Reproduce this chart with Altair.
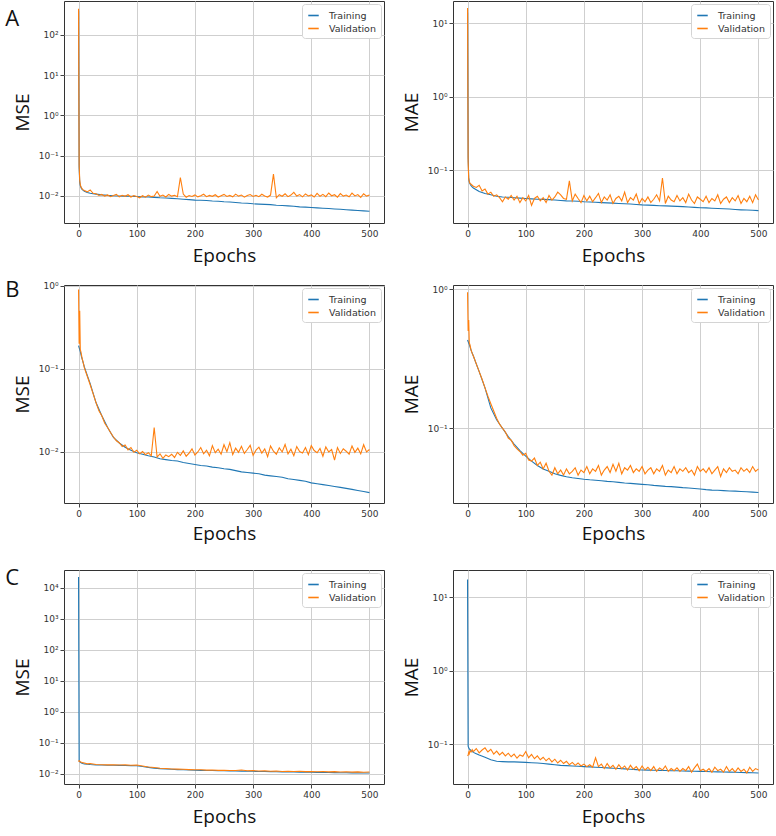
import altair as alt
import pandas as pd

# ---------------- epochs grids ----------------
EP_C = [0, 1, 2, 3, 5, 7, 10, 15, 20] + list(range(30, 501, 10))
EP_F = [0, 1, 2, 3, 4, 6, 8] + list(range(10, 501, 5))

SERIES = ["Training", "Validation"]
BLUE = "#1f77b4"
ORANGE = "#ff7f0e"

# ---------------- A : MSE ----------------
A_MSE_TRAIN = [400, 0.05, 0.022, 0.018, 0.015, 0.014, 0.013, 0.012, 0.0115,
               0.0110, 0.0105, 0.0102, 0.0100, 0.0099, 0.0098, 0.0097, 0.0096, 0.0094, 0.0093,
               0.0091, 0.0089, 0.0088, 0.0086, 0.0084, 0.0082, 0.0080, 0.0078, 0.0077, 0.0076,
               0.0074, 0.0073, 0.0071, 0.0070, 0.0068, 0.0066, 0.0065, 0.0063, 0.0062, 0.0061,
               0.0060, 0.0058, 0.0057, 0.0056, 0.0055, 0.0053, 0.0052, 0.0051, 0.0050, 0.0049,
               0.0048, 0.0047, 0.0046, 0.0045, 0.0044, 0.0043, 0.0042, 0.0041]
A_MSE_VAL = [450, 0.06, 0.025, 0.019, 0.017, 0.015, 0.014,
             0.0135, 0.0125, 0.0140, 0.0115, 0.0112, 0.0102, 0.0108, 0.0098, 0.0105, 0.0095,
             0.0101, 0.0108, 0.0094, 0.0103, 0.0097, 0.0106, 0.0093, 0.0101, 0.0096, 0.0089,
             0.0100, 0.0092, 0.0104, 0.0095, 0.0099, 0.0128, 0.0097, 0.0104, 0.0093, 0.0108,
             0.0098, 0.0103, 0.0095, 0.0285, 0.0110, 0.0092, 0.0101, 0.0096, 0.0105, 0.0094,
             0.0100, 0.0109, 0.0095, 0.0102, 0.0097, 0.0106, 0.0093, 0.0100, 0.0108, 0.0096,
             0.0102, 0.0094, 0.0110, 0.0098, 0.0104, 0.0092, 0.0101, 0.0107, 0.0096, 0.0103,
             0.0095, 0.0109, 0.0099, 0.0093, 0.0104, 0.0345, 0.0089, 0.0106, 0.0097, 0.0112,
             0.0095, 0.0104, 0.0121, 0.0098, 0.0107, 0.0094, 0.0111, 0.0099, 0.0105, 0.0093,
             0.0115, 0.0097, 0.0108, 0.0095, 0.0117, 0.0100, 0.0106, 0.0092, 0.0113, 0.0098,
             0.0104, 0.0094, 0.0116, 0.0099, 0.0107, 0.0091, 0.0112, 0.0098, 0.0105]

# ---------------- A : MAE ----------------
A_MAE_TRAIN = [14, 0.15, 0.08, 0.068, 0.063, 0.060, 0.057, 0.054, 0.051,
               0.048, 0.046, 0.044, 0.043, 0.0425, 0.042, 0.0415, 0.041, 0.0405, 0.040,
               0.0398, 0.0395, 0.039, 0.0385, 0.038, 0.0378, 0.0375, 0.037, 0.0367, 0.0364,
               0.036, 0.0357, 0.0354, 0.035, 0.0347, 0.0344, 0.034, 0.0335, 0.0333, 0.033,
               0.0327, 0.0325, 0.0322, 0.032, 0.0317, 0.0314, 0.031, 0.0307, 0.0305, 0.0302,
               0.030, 0.0297, 0.0294, 0.029, 0.0287, 0.0285, 0.0283, 0.028]
A_MAE_VAL = [16, 0.13, 0.075, 0.070, 0.066, 0.064, 0.062,
             0.060, 0.058, 0.062, 0.052, 0.055, 0.047, 0.050, 0.044, 0.046, 0.042,
             0.037, 0.043, 0.040, 0.045, 0.039, 0.044, 0.036, 0.042, 0.038, 0.045,
             0.033, 0.041, 0.044, 0.038, 0.042, 0.036, 0.045, 0.039, 0.043, 0.050,
             0.046, 0.041, 0.040, 0.071, 0.038, 0.047, 0.041, 0.036, 0.045, 0.038,
             0.044, 0.037, 0.042, 0.048, 0.036, 0.043, 0.039, 0.046, 0.035, 0.041,
             0.044, 0.038, 0.050, 0.036, 0.042, 0.039, 0.047, 0.035, 0.041, 0.037,
             0.043, 0.036, 0.040, 0.046, 0.038, 0.078, 0.035, 0.044, 0.039, 0.037,
             0.045, 0.038, 0.042, 0.036, 0.047, 0.039, 0.035, 0.043, 0.040, 0.037,
             0.044, 0.036, 0.041, 0.038, 0.046, 0.035, 0.040, 0.043, 0.036, 0.042,
             0.038, 0.045, 0.035, 0.041, 0.037, 0.044, 0.036, 0.046, 0.039]

# ---------------- B : MSE ----------------
B_MSE_TRAIN = [0.19, 0.18, 0.17, 0.16, 0.14, 0.125, 0.105, 0.083, 0.066,
               0.039, 0.027, 0.0195, 0.0148, 0.0127, 0.0113, 0.0104, 0.0097, 0.0093, 0.0089,
               0.0086, 0.0082, 0.0080, 0.0078, 0.0077, 0.0074, 0.0072, 0.0070, 0.0068, 0.0067,
               0.0065, 0.0064, 0.0062, 0.0061, 0.0059, 0.0057, 0.0056, 0.0055, 0.0054, 0.0052,
               0.0051, 0.0050, 0.0049, 0.0047, 0.0046, 0.0045, 0.0044, 0.0042, 0.0041, 0.0040,
               0.0039, 0.0038, 0.0037, 0.0036, 0.0035, 0.0034, 0.0033, 0.0032]
B_MSE_VAL = [0.90, 0.20, 0.50, 0.17, 0.16, 0.135, 0.118,
             0.102, 0.081, 0.064, 0.050, 0.039, 0.031, 0.027, 0.022, 0.0195, 0.017,
             0.0150, 0.0135, 0.0128, 0.0115, 0.0120, 0.0105, 0.0112, 0.0098, 0.0104, 0.0094,
             0.0100, 0.0092, 0.0097, 0.0089, 0.0195, 0.0086, 0.0094, 0.0083, 0.0091, 0.0087,
             0.0093, 0.0085, 0.0098, 0.0090, 0.0102, 0.0088, 0.0096, 0.0108, 0.0091, 0.0099,
             0.0112, 0.0094, 0.0104, 0.0089, 0.0118, 0.0097, 0.0107, 0.0093, 0.0121, 0.0100,
             0.0128, 0.0092, 0.0110, 0.0098, 0.0116, 0.0095, 0.0106, 0.0119, 0.0090, 0.0104,
             0.0113, 0.0096, 0.0108, 0.0087, 0.0117, 0.0101, 0.0093, 0.0111, 0.0099, 0.0122,
             0.0094, 0.0107, 0.0089, 0.0115, 0.0100, 0.0096, 0.0112, 0.0092, 0.0118, 0.0103,
             0.0097, 0.0109, 0.0088, 0.0114, 0.0099, 0.0106, 0.0079, 0.0112, 0.0095, 0.0108,
             0.0101, 0.0093, 0.0117, 0.0098, 0.0110, 0.0094, 0.0121, 0.0099, 0.0106]

# ---------------- B : MAE ----------------
B_MAE_TRAIN = [0.43, 0.42, 0.41, 0.40, 0.375, 0.355, 0.33, 0.29, 0.255,
               0.195, 0.14, 0.115, 0.10, 0.087, 0.077, 0.069, 0.063, 0.058, 0.054,
               0.051, 0.049, 0.047, 0.0458, 0.0448, 0.044, 0.0435, 0.043, 0.0426, 0.0423,
               0.0419, 0.0415, 0.0412, 0.0408, 0.0404, 0.0401, 0.0398, 0.0395, 0.0392, 0.0388,
               0.0385, 0.0382, 0.038, 0.0377, 0.0374, 0.0372, 0.0369, 0.0366, 0.0362, 0.0359,
               0.0358, 0.0356, 0.0354, 0.0353, 0.0351, 0.0349, 0.0347, 0.0345]
B_MAE_VAL = [0.95, 0.50, 0.60, 0.41, 0.40, 0.365, 0.345,
             0.33, 0.29, 0.255, 0.225, 0.195, 0.17, 0.15, 0.133, 0.118, 0.107,
             0.100, 0.094, 0.085, 0.082, 0.075, 0.071, 0.068, 0.064, 0.066, 0.059,
             0.058, 0.061, 0.054, 0.057, 0.051, 0.056, 0.049, 0.046, 0.052, 0.047,
             0.050, 0.046, 0.051, 0.047, 0.049, 0.052, 0.046, 0.050, 0.048, 0.053,
             0.047, 0.051, 0.049, 0.054, 0.046, 0.050, 0.053, 0.048, 0.055, 0.049,
             0.056, 0.047, 0.052, 0.050, 0.054, 0.048, 0.051, 0.049, 0.053, 0.047,
             0.050, 0.052, 0.047, 0.051, 0.049, 0.054, 0.046, 0.050, 0.048, 0.053,
             0.047, 0.051, 0.049, 0.052, 0.048, 0.050, 0.046, 0.053, 0.049, 0.051,
             0.048, 0.052, 0.047, 0.050, 0.053, 0.045, 0.051, 0.048, 0.052, 0.049,
             0.050, 0.047, 0.052, 0.049, 0.051, 0.048, 0.053, 0.049, 0.051]

# ---------------- C : MSE ----------------
C_MSE_TRAIN = [22000, 0.026, 0.024, 0.023, 0.022, 0.021, 0.0205, 0.020, 0.0195,
               0.019, 0.0188, 0.0186, 0.0185, 0.0184, 0.0182, 0.018, 0.0178, 0.0168, 0.0158,
               0.015, 0.0144, 0.014, 0.0137, 0.0134, 0.0132, 0.013, 0.0128, 0.0127, 0.0126,
               0.0125, 0.0124, 0.0123, 0.0122, 0.0121, 0.012, 0.0119, 0.0118, 0.0117, 0.0116,
               0.0115, 0.0114, 0.0113, 0.0112, 0.0112, 0.0111, 0.011, 0.011, 0.0109, 0.0108,
               0.0108, 0.0107, 0.0106, 0.0106, 0.0105, 0.0105, 0.0104, 0.0104]
C_MSE_VAL = [0.024, 0.026, 0.025, 0.024, 0.023, 0.0225, 0.022, 0.0205, 0.021,
             0.0195, 0.0192, 0.0190, 0.0191, 0.0188, 0.0190, 0.0186, 0.0189, 0.0175, 0.0162,
             0.0157, 0.0148, 0.0146, 0.0141, 0.0139, 0.0137, 0.0134, 0.0132, 0.0133, 0.0129,
             0.0130, 0.0127, 0.0128, 0.0125, 0.0126, 0.0130, 0.0123, 0.0124, 0.0121, 0.0122,
             0.0119, 0.0121, 0.0117, 0.0119, 0.0116, 0.0118, 0.0115, 0.0117, 0.0114, 0.0116,
             0.0113, 0.0115, 0.0112, 0.0114, 0.0111, 0.0113, 0.0110, 0.0112]

# ---------------- C : MAE ----------------
C_MAE_TRAIN = [17.5, 0.095, 0.09, 0.087, 0.084, 0.081, 0.078, 0.075, 0.072,
               0.067, 0.062, 0.059, 0.0585, 0.058, 0.058, 0.0575, 0.057, 0.0565, 0.056,
               0.055, 0.054, 0.053, 0.052, 0.0515, 0.051, 0.0505, 0.050, 0.0495, 0.049,
               0.0485, 0.048, 0.0475, 0.047, 0.0465, 0.046, 0.0455, 0.045, 0.0448, 0.0446,
               0.0444, 0.0442, 0.044, 0.0438, 0.0436, 0.0434, 0.0432, 0.043, 0.0428, 0.0426,
               0.0424, 0.0422, 0.042, 0.0418, 0.0416, 0.0414, 0.0412, 0.041]
C_MAE_VAL = [0.070, 0.072, 0.078, 0.075, 0.082, 0.079, 0.085,
             0.080, 0.088, 0.077, 0.084, 0.090, 0.079, 0.086, 0.074, 0.081, 0.072,
             0.078, 0.070, 0.076, 0.068, 0.074, 0.065, 0.072, 0.069, 0.080, 0.066,
             0.073, 0.064, 0.070, 0.062, 0.067, 0.060, 0.065, 0.058, 0.063, 0.056,
             0.061, 0.055, 0.059, 0.053, 0.057, 0.052, 0.056, 0.051, 0.054, 0.050,
             0.053, 0.049, 0.066, 0.050, 0.054, 0.047, 0.055, 0.048, 0.052, 0.046,
             0.053, 0.047, 0.051, 0.045, 0.052, 0.046, 0.050, 0.044, 0.051, 0.045,
             0.049, 0.044, 0.050, 0.043, 0.048, 0.045, 0.051, 0.043, 0.047, 0.044,
             0.048, 0.043, 0.047, 0.044, 0.050, 0.042, 0.048, 0.054, 0.044, 0.046,
             0.043, 0.047, 0.042, 0.049, 0.044, 0.046, 0.042, 0.050, 0.043, 0.047,
             0.042, 0.048, 0.043, 0.046, 0.041, 0.049, 0.043, 0.047, 0.045]

X_TICKS = [0, 100, 200, 300, 400, 500]

SUP = {"-": "\u207b", "0": "\u2070", "1": "\u00b9", "2": "\u00b2", "3": "\u00b3", "4": "\u2074"}


def sup(n):
    return "".join(SUP[c] for c in str(n))


def label_expr(exps):
    parts = [f"round(log(datum.value)/LN10) == {e} ? '10{sup(e)}'" for e in exps]
    return " : ".join(parts) + " : ''"


def panel(ep_t, train, ep_v, val, ylabel, ydomain, exps, height, xpad, letter=None, loff=-20):
    df = pd.concat([
        pd.DataFrame({"epoch": ep_t, "value": train, "series": "Training"}),
        pd.DataFrame({"epoch": ep_v, "value": val, "series": "Validation"}),
    ], ignore_index=True)
    props = dict(width=320, height=height)
    if letter:
        props["title"] = alt.TitleParams(
            text=letter, anchor="start", frame="bounds", orient="top",
            offset=loff, dx=-8, fontSize=22, font="Open Sans",
            fontWeight="normal", color="#111")
    return alt.Chart(df).mark_line(strokeWidth=1.1, clip=True).encode(
        x=alt.X("epoch:Q",
                scale=alt.Scale(domain=[-25, 525], nice=False, zero=False),
                axis=alt.Axis(values=X_TICKS, format="d", title="Epochs",
                              titlePadding=xpad)),
        y=alt.Y("value:Q",
                scale=alt.Scale(type="log", domain=ydomain, nice=False),
                axis=alt.Axis(values=[10.0 ** e for e in exps],
                              labelExpr=label_expr(exps), title=ylabel,
                              titlePadding=6)),
        color=alt.Color("series:N",
                        scale=alt.Scale(domain=SERIES, range=[BLUE, ORANGE]),
                        legend=alt.Legend(title=None, orient="top-right", offset=3,
                                          fillColor="white", strokeColor="#d4d4d4",
                                          cornerRadius=3, padding=5,
                                          symbolType="stroke", symbolSize=110,
                                          symbolStrokeWidth=1.6,
                                          labelFont="DejaVu Sans", labelFontSize=9.5,
                                          labelColor="#333", rowPadding=2,
                                          labelOffset=9)),
    ).properties(**props)


pAL = panel(EP_C, A_MSE_TRAIN, EP_F, A_MSE_VAL, "MSE", [0.0021, 700], [-2, -1, 0, 1, 2], 222, 8, "A", -30)
pAR = panel(EP_C, A_MAE_TRAIN, EP_F, A_MAE_VAL, "MAE", [0.019, 20], [-1, 0, 1], 222, 8)
pBL = panel(EP_C, B_MSE_TRAIN, EP_F, B_MSE_VAL, "MSE", [0.0024, 1.02], [-2, -1, 0], 218, 6, "B", -20)
pBR = panel(EP_C, B_MAE_TRAIN, EP_F, B_MAE_VAL, "MAE", [0.029, 1.07], [-1, 0], 218, 6)
pCL = panel(EP_C, C_MSE_TRAIN, EP_C, C_MSE_VAL, "MSE", [0.0046, 37000], [-2, -1, 0, 1, 2, 3, 4], 214, 8, "C", -20)
pCR = panel(EP_C, C_MAE_TRAIN, EP_F, C_MAE_VAL, "MAE", [0.029, 23.5], [-1, 0, 1], 214, 8)


def row(a, b):
    return alt.hconcat(a, b, spacing=16).resolve_scale(color="independent").resolve_legend(color="independent")


lower = alt.vconcat(row(pBL, pBR), row(pCL, pCR), spacing=22).resolve_scale(
    color="independent").resolve_legend(color="independent")

chart = alt.vconcat(row(pAL, pAR), lower, spacing=12).resolve_scale(
    color="independent").resolve_legend(color="independent").properties(
    padding={"left": 4, "top": 0, "right": 0, "bottom": 0}
).configure_axis(
    labelFont="DejaVu Sans", labelFontSize=9, labelColor="#333",
    tickColor="#444", tickSize=4, labelPadding=2,
    gridColor="#cfcfcf", gridWidth=1, domain=False,
    titleFont="Open Sans", titleFontSize=19, titleFontWeight="normal", titleColor="#111",
).configure_view(stroke="#333", strokeWidth=1)

chart.save("out.html", embed_options={"renderer": "svg", "actions": False})
